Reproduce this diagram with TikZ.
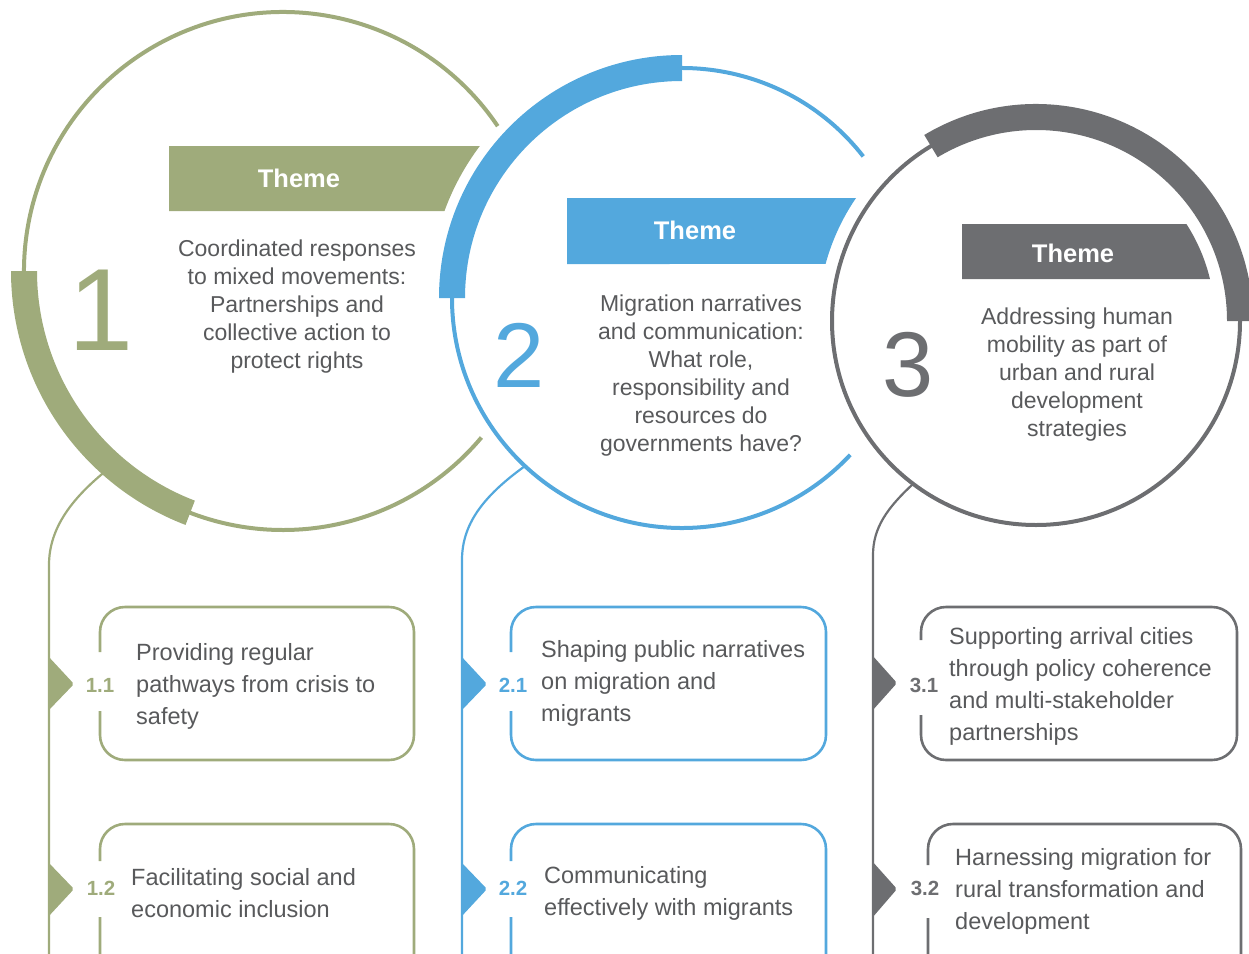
\documentclass[tikz,border=0pt]{standalone}
\usepackage{fontspec}
\setmainfont{Liberation Sans}
\definecolor{cgreen}{HTML}{9FAB7B}
\definecolor{cblue}{HTML}{53A8DD}
\definecolor{cgrey}{HTML}{6D6E71}
\definecolor{ctext}{HTML}{58595B}
\begin{document}
\begin{tikzpicture}[x=1pt,y=1pt,yscale=-1,
  ring/.style={line width=4pt},
  link/.style={line width=2.2pt},
  boxline/.style={line width=2.6pt, rounded corners=25pt},
  desc/.style={text=ctext, font=\fontsize{23}{28}\selectfont, align=center, inner sep=0pt},
  subtxt/.style={text=ctext, font=\fontsize{23.5}{32}\selectfont, align=left, anchor=west, inner sep=0pt},
  lab/.style={font=\bfseries\fontsize{20.5}{20.5}\selectfont, inner sep=0pt},
  themetxt/.style={text=white, font=\bfseries\fontsize{25.5}{26}\selectfont, inner sep=0pt},
  bignum/.style={inner sep=0pt},
  tri/.style={rounded corners=2pt}
]
\useasboundingbox (0,0) rectangle (1249,953);
\clip (0,0) rectangle (1249,953);

% ---------- thin rings ----------
\draw[ring, cgreen] ([shift={(283,271)}]-34:259) arc[start angle=-34, end angle=-320, radius=259];
\draw[ring, cblue] ([shift={(682,298)}]-38:230) arc[start angle=-38, end angle=-317, radius=230];
\draw[ring, cgrey] (1036,321) circle[radius=204];

% ---------- links to the sub-themes ----------
\coordinate (s1) at (112,466); \coordinate (v1) at (49,565); \coordinate (e1) at (49,970);
\coordinate (s2) at (525,466); \coordinate (v2) at (462,560); \coordinate (e2) at (462,970);
\coordinate (s3) at (913,484); \coordinate (v3) at (873,555); \coordinate (e3) at (873,970);
\draw[link, cgreen] (s1) .. controls (72,497) and (49,528) .. (v1) -- (e1);
\draw[link, cblue]  (s2) .. controls (482,497) and (462,525) .. (v2) -- (e2);
\draw[link, cgrey]  (s3) .. controls (887,508) and (873,528) .. (v3) -- (e3);

% ---------- thick arcs ----------
\fill[cgreen] ([shift={(283,271)}]111:272) arc[start angle=111, end angle=180, radius=272]
  -- ([shift={(283,271)}]180:246) arc[start angle=180, end angle=111, radius=246] -- cycle;
\fill[cblue] ([shift={(682,298)}]180:243) arc[start angle=180, end angle=270, radius=243]
  -- ([shift={(682,298)}]270:217) arc[start angle=270, end angle=180, radius=217] -- cycle;
\fill[cgrey] ([shift={(1036,321)}]-121:217) arc[start angle=-121, end angle=0, radius=217]
  -- ([shift={(1036,321)}]0:191) arc[start angle=0, end angle=-121, radius=191] -- cycle;

% ---------- banners ----------
\fill[cgreen] (169,146) -- (479.8,146) arc[start angle=216.94, end angle=200.1, radius=253] -- (169,211) -- cycle;
\fill[cblue] (567,198) -- (856,198) arc[start angle=214.35, end angle=195.16, radius=218] -- (567,264) -- cycle;
\fill[cgrey] (962,224) -- (1186.4,224) arc[start angle=-32.82, end angle=-13.57, radius=179] -- (962,279) -- cycle;
\node[themetxt] (t1) at (299,178) {Theme};
\node[themetxt] (t2) at (695,230) {Theme};
\node[themetxt] (t3) at (1073,253) {Theme};

% ---------- big numbers ----------
\node[bignum, text=cgreen, font=\fontsize{117}{117}\selectfont] (n1) at (101,310) {1};
\node[bignum, text=cblue, font=\fontsize{92}{92}\selectfont] (n2) at (519,355) {2};
\node[bignum, text=cgrey, font=\fontsize{92}{92}\selectfont] (n3) at (908,365) {3};

% ---------- theme descriptions ----------
\node[desc] (d1) at (297,307) {Coordinated responses\\to mixed movements:\\Partnerships and\\collective action to\\protect rights};
\node[desc] (d2) at (701,376) {Migration narratives\\and communication:\\What role,\\responsibility and\\resources do\\governments have?};
\node[desc] (d3) at (1077,375) {Addressing human\\mobility as part of\\urban and rural\\development\\strategies};

% ---------- sub-theme boxes ----------
\draw[boxline, cgreen] (100,711) -- (100,760) -- (414,760) -- (414,607) -- (100,607) -- (100,652);
\draw[boxline, cgreen] (100,917) -- (100,990) -- (414,990) -- (414,824) -- (100,824) -- (100,861);
\draw[boxline, cblue] (511,711) -- (511,760) -- (826,760) -- (826,607) -- (511,607) -- (511,652);
\draw[boxline, cblue] (511,917) -- (511,990) -- (826,990) -- (826,824) -- (511,824) -- (511,861);
\draw[boxline, cgrey] (921,715) -- (921,760) -- (1237,760) -- (1237,607) -- (921,607) -- (921,640);
\draw[boxline, cgrey] (928,918) -- (928,990) -- (1241,990) -- (1241,824) -- (928,824) -- (928,865);

% ---------- markers ----------
\fill[tri, cgreen] (48,656) -- (74,684) -- (48,711) -- cycle;
\fill[tri, cgreen] (48,862) -- (74,889) -- (48,917) -- cycle;
\fill[tri, cblue] (461,656) -- (487,684) -- (461,711) -- cycle;
\fill[tri, cblue] (461,862) -- (487,889) -- (461,917) -- cycle;
\fill[tri, cgrey] (872,655) -- (897,683) -- (872,711) -- cycle;
\fill[tri, cgrey] (872,861) -- (897,889) -- (872,918) -- cycle;

% ---------- labels ----------
\node[lab, text=cgreen] (l11) at (100,685) {1.1};
\node[lab, text=cgreen] (l12) at (101,888) {1.2};
\node[lab, text=cblue] (l21) at (513,685) {2.1};
\node[lab, text=cblue] (l22) at (513,888) {2.2};
\node[lab, text=cgrey] (l31) at (924,685) {3.1};
\node[lab, text=cgrey] (l32) at (925,888) {3.2};

% ---------- sub-theme texts ----------
\node[subtxt] (x11) at (136,686) {Providing regular\\pathways from crisis to\\safety};
\node[subtxt] (x12) at (131,893) {Facilitating social and\\economic inclusion};
\node[subtxt] (x21) at (541,683) {Shaping public narratives\\on migration and\\migrants};
\node[subtxt] (x22) at (544,893) {Communicating\\effectively with migrants};
\node[subtxt] (x31) at (949,686) {Supporting arrival cities\\through policy coherence\\and multi-stakeholder\\partnerships};
\node[subtxt] (x32) at (955,891) {Harnessing migration for\\rural transformation and\\development};
\end{tikzpicture}
\end{document}
